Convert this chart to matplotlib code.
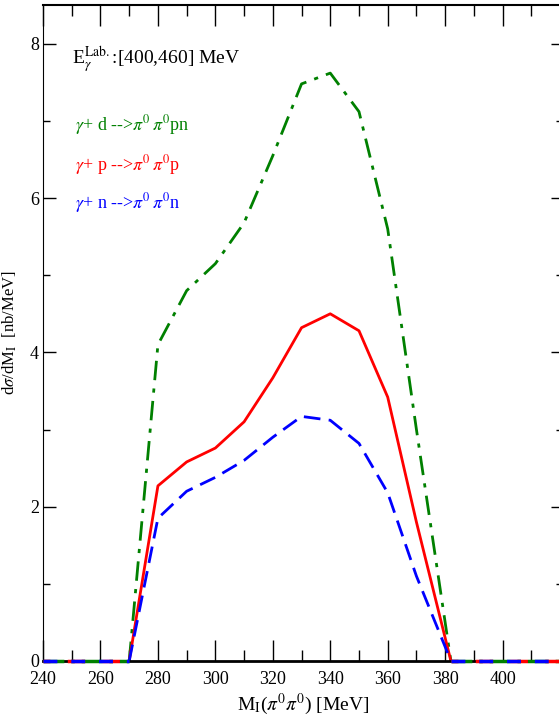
import matplotlib
matplotlib.use('Agg')
import matplotlib.pyplot as plt
from matplotlib.ticker import MultipleLocator, FixedLocator

plt.rcParams['font.family'] = ['Liberation Serif', 'DejaVu Serif']
plt.rcParams['mathtext.fontset'] = 'stix'

# 数据
m_lo = [240, 270]
m_hi = [382, 421]
m = [270, 280, 290, 300, 310, 320, 330, 340, 350, 360, 370, 382]
sig_d = [0, 4.10, 4.80, 5.15, 5.68, 6.55, 7.48, 7.62, 7.12, 5.60, 3.00, 0]
sig_p = [0, 2.27, 2.58, 2.76, 3.10, 3.67, 4.32, 4.50, 4.28, 3.42, 1.80, 0]
sig_n = [0, 1.85, 2.20, 2.38, 2.60, 2.90, 3.17, 3.12, 2.82, 2.18, 1.10, 0]
x_ticks = [240, 260, 280, 300, 320, 340, 360, 380, 400]

green = '#008000'
red = '#ff0000'
blue = '#0000ff'

fig = plt.figure(figsize=(5.59, 7.23), dpi=100)
ax = fig.add_axes([0.077, 0.0858, 0.93, 0.907])

# 零值段
for c, ls in [(green, (0, (6, 2, 1, 2))), (red, (3, (5, 5))), (blue, (0, (4, 4)))]:
    ax.plot(m_lo, [0, 0], color=c, lw=2.5, ls=ls, zorder=3, clip_on=False)
    ax.plot(m_hi, [0, 0], color=c, lw=2.5, ls=ls, zorder=3, clip_on=False)

ax.plot(m, sig_d, color=green, lw=2, ls=(0, (7, 3, 1.5, 3)))
ax.plot(m, sig_p, color=red, lw=2, ls='-')
ax.plot(m, sig_n, color=blue, lw=2, ls=(0, (6, 3)))

ax.set_xlim(240, 421)
ax.set_ylim(0, 8.5)
ax.xaxis.set_major_locator(FixedLocator(x_ticks))
ax.xaxis.set_minor_locator(MultipleLocator(10))
ax.yaxis.set_major_locator(MultipleLocator(2))
ax.yaxis.set_minor_locator(MultipleLocator(1))
ax.tick_params(axis='x', which='major', direction='in', length=15, width=1, top=True, labelsize=13, pad=7)
ax.tick_params(axis='x', which='minor', direction='in', length=8, width=1, top=True)
ax.tick_params(axis='y', which='major', direction='in', length=9, width=1, right=True, labelsize=13, pad=3)
ax.tick_params(axis='y', which='minor', direction='in', length=5, width=1, right=True)
ax.spines['bottom'].set_linewidth(2)
ax.spines['top'].set_linewidth(1.5)

ax.set_xlabel(r'M$_{\rm I}$($\pi^{0}\pi^{0}$) [MeV]', fontsize=14, labelpad=3)
ax.set_ylabel(r'd$\sigma$/dM$_{\rm I}$  [nb/MeV]', fontsize=12)
ax.yaxis.set_label_coords(-0.047, 0.5)

ax.text(250, 7.8, r'E$_{\gamma}^{\rm Lab.}$:[400,460] MeV', fontsize=14, va='center')
ax.text(251, 6.95, r'$\gamma$+ d -->$\pi^{0}\,\pi^{0}$pn', color=green, fontsize=13, va='center')
ax.text(251, 6.43, r'$\gamma$+ p -->$\pi^{0}\,\pi^{0}$p', color=red, fontsize=13, va='center')
ax.text(251, 5.93, r'$\gamma$+ n -->$\pi^{0}\,\pi^{0}$n', color=blue, fontsize=13, va='center')

fig.savefig('out.png', dpi=100)
